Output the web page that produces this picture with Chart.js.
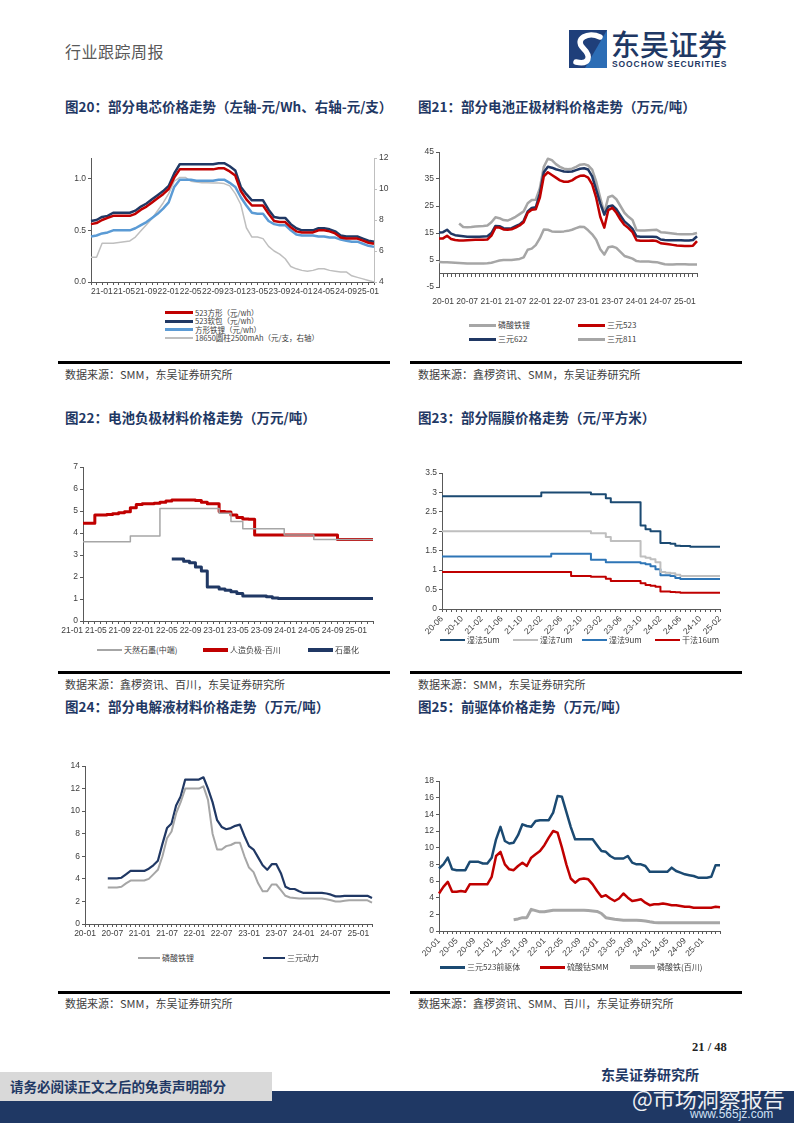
<!DOCTYPE html>
<html>
<head>
<meta charset="utf-8">
<script src="https://cdn.jsdelivr.net/npm/chart.js@4.4.0/dist/chart.umd.min.js"></script>
<style>
body { margin: 0; background: #fff; }
#page { position: relative; width: 794px; height: 1123px; overflow: hidden; background: #fff; font-family: "Noto Sans CJK SC", sans-serif; }
.abs { position: absolute; white-space: nowrap; }
.title { font-size: 13.5px; font-weight: 700; color: #1f3864; line-height: 16px; }
.src { font-size: 11px; color: #404040; line-height: 14px; }
.rule { position: absolute; height: 2.5px; background: #000; width: 332px; }
canvas { position: absolute; }
.li { position: absolute; display: flex; align-items: center; white-space: nowrap; font-size: 8px; line-height: 8px; color: #404040; }
.li.small { font-size: 7.5px; }
.sw { display: inline-block; margin-right: 2px; }
</style>
</head>
<body>
<div id="page">
  <div class="abs" style="left:65px;top:41px;font-size:16px;line-height:20px;color:#595959;letter-spacing:0.5px">行业跟踪周报</div>
  <svg class="abs" style="left:569px;top:30px" width="38" height="38" viewBox="0 0 38 38">
    <rect x="0" y="0" width="38" height="38" fill="#1f3f7a"/>
    <path d="M38 0 L38 38 L16 38 Z" fill="#2c6db5"/>
    <path d="M31 7 C19 1, 5 9, 14 18 C23 27, 20 35, 7 32" stroke="#fff" stroke-width="5.5" fill="none" stroke-linecap="round"/>
  </svg>
  <div class="abs" style="left:611px;top:26px;font-size:29px;line-height:34px;color:#1f3864;font-weight:500">东吴证券</div>
  <div class="abs" style="left:612px;top:59px;font-size:8.5px;line-height:10px;font-weight:700;color:#1f3864;letter-spacing:0.9px;font-family:'Liberation Sans',sans-serif">SOOCHOW SECURITIES</div>

  <div class="abs title" style="left:65px;top:98px">图20：部分电芯价格走势（左轴-元/Wh、右轴-元/支）</div>
  <div class="abs title" style="left:418px;top:98px">图21：部分电池正极材料价格走势（万元/吨）</div>
  <div class="rule" style="left:58px;top:361px"></div>
  <div class="rule" style="left:410px;top:361px"></div>
  <div class="abs src" style="left:65px;top:367px">数据来源：SMM，东吴证券研究所</div>
  <div class="abs src" style="left:418px;top:367px">数据来源：鑫椤资讯、SMM，东吴证券研究所</div>

  <div class="abs title" style="left:65px;top:409px">图22：电池负极材料价格走势（万元/吨）</div>
  <div class="abs title" style="left:418px;top:409px">图23：部分隔膜价格走势（元/平方米）</div>
  <div class="rule" style="left:58px;top:671px"></div>
  <div class="rule" style="left:410px;top:671px"></div>
  <div class="abs src" style="left:65px;top:677px">数据来源：鑫椤资讯、百川，东吴证券研究所</div>
  <div class="abs src" style="left:418px;top:677px">数据来源：SMM，东吴证券研究所</div>

  <div class="abs title" style="left:65px;top:698px">图24：部分电解液材料价格走势（万元/吨）</div>
  <div class="abs title" style="left:418px;top:698px">图25：前驱体价格走势（万元/吨）</div>
  <div class="rule" style="left:58px;top:991px"></div>
  <div class="rule" style="left:410px;top:991px"></div>
  <div class="abs src" style="left:65px;top:996px">数据来源：SMM，东吴证券研究所</div>
  <div class="abs src" style="left:418px;top:996px">数据来源：鑫椤资讯、SMM、百川，东吴证券研究所</div>

  <canvas id="c20" width="338" height="160" style="left:58px;top:140px"></canvas>
  <canvas id="c21" width="312" height="165" style="left:405px;top:140px"></canvas>
  <canvas id="c22" width="328" height="185" style="left:55px;top:455px"></canvas>
  <canvas id="c23" width="327" height="176" style="left:408px;top:460px"></canvas>
  <canvas id="c24" width="335" height="190" style="left:55px;top:752px"></canvas>
  <canvas id="c25" width="330" height="189" style="left:405px;top:768px"></canvas>
  <div id="legends"></div>

  <div class="abs" style="left:692px;top:1040px;font:bold 12.5px 'Liberation Serif',serif;color:#222">21 / 48</div>
  <div class="abs" style="left:0;top:1091px;width:794px;height:32px;background:#1f3864"></div>
  <div class="abs" style="left:0;top:1072px;width:272px;height:29px;background:#d9d9d9"></div>
  <div class="abs" style="left:10px;top:1077px;font-size:13.5px;line-height:18px;font-weight:700;color:#1f3864">请务必阅读正文之后的免责声明部分</div>
  <div class="abs" style="left:601px;top:1065px;font-size:14px;line-height:18px;font-weight:700;color:#1f3864">东吴证券研究所</div>
  <div class="abs" style="left:632px;top:1084px;font-size:22px;line-height:26px;color:#fff;opacity:0.92">@市场洞察报告</div>
  <div class="abs" style="left:690px;top:1107px;font-size:12px;line-height:14px;color:#cfe0f5;font-family:'Liberation Sans',sans-serif">www.565jz.com</div>
</div>

<script>
// ---------- data ----------
// 图20 电芯（左轴 元/Wh，右轴 元/支），21-01 .. 25-04
const ticks20 = ["21-01", "21-05", "21-09", "22-01", "22-05", "22-09", "23-01", "23-05", "23-09", "24-01", "24-05", "24-09", "25-01"];
const cellFang523 = [0.56, 0.57, 0.60, 0.62, 0.64, 0.64, 0.64, 0.64, 0.66, 0.70, 0.73, 0.77, 0.81, 0.85, 0.90, 1.01, 1.09, 1.09, 1.09, 1.09, 1.09, 1.09, 1.09, 1.10, 1.10, 1.07, 1.03, 0.88, 0.80, 0.74, 0.74, 0.74, 0.66, 0.59, 0.58, 0.58, 0.53, 0.49, 0.48, 0.48, 0.48, 0.50, 0.50, 0.49, 0.47, 0.43, 0.42, 0.42, 0.42, 0.40, 0.38, 0.37];
const cellRuan523 = [0.59, 0.60, 0.63, 0.64, 0.67, 0.67, 0.67, 0.67, 0.69, 0.73, 0.76, 0.80, 0.84, 0.88, 0.93, 1.05, 1.14, 1.14, 1.14, 1.14, 1.14, 1.14, 1.14, 1.15, 1.15, 1.12, 1.08, 0.92, 0.85, 0.79, 0.79, 0.79, 0.70, 0.63, 0.62, 0.62, 0.56, 0.52, 0.50, 0.50, 0.50, 0.52, 0.52, 0.51, 0.49, 0.45, 0.44, 0.44, 0.44, 0.42, 0.40, 0.39];
const cellFangLfp = [0.44, 0.45, 0.47, 0.48, 0.50, 0.50, 0.50, 0.50, 0.52, 0.55, 0.58, 0.62, 0.66, 0.71, 0.77, 0.92, 0.99, 0.99, 0.99, 0.98, 0.98, 0.98, 0.98, 0.99, 0.99, 0.96, 0.92, 0.82, 0.74, 0.67, 0.66, 0.66, 0.59, 0.56, 0.55, 0.55, 0.50, 0.46, 0.45, 0.45, 0.45, 0.44, 0.44, 0.43, 0.43, 0.41, 0.40, 0.39, 0.39, 0.37, 0.35, 0.34];
const cell18650 = [5.6, 5.6, 6.5, 6.5, 6.5, 6.55, 6.6, 6.65, 6.9, 7.3, 7.7, 8.1, 8.6, 9.1, 9.7, 10.5, 10.75, 10.75, 10.5, 10.45, 10.4, 10.4, 10.38, 10.38, 10.35, 10.2, 9.7, 9.0, 7.5, 6.9, 6.9, 6.8, 6.3, 6.0, 5.8, 5.5, 5.0, 4.85, 4.75, 4.7, 4.75, 4.85, 4.85, 4.75, 4.7, 4.65, 4.65, 4.4, 4.3, 4.2, 4.1, 4.0];

// 图21 正极材料（万元/吨），19-12 .. 25-04
const ticks21 = ["20-01", "20-07", "21-01", "21-07", "22-01", "22-07", "23-01", "23-07", "24-01", "24-07", "25-01"];
const cathLfp = [4.3, 4.2, 4.2, 4.1, 4.0, 3.9, 3.8, 3.7, 3.7, 3.7, 3.7, 3.7, 3.8, 4.0, 4.4, 4.8, 5.0, 5.0, 5.0, 5.2, 5.4, 6.0, 8.8, 9.2, 10.5, 13.0, 16.3, 16.2, 15.6, 15.5, 15.5, 15.6, 15.8, 16.2, 16.8, 17.3, 17.2, 16.0, 14.5, 12.5, 9.0, 7.0, 9.7, 10.0, 9.5, 8.0, 6.5, 6.0, 5.5, 4.6, 4.4, 4.4, 4.4, 4.3, 4.2, 3.8, 3.4, 3.3, 3.3, 3.4, 3.4, 3.4, 3.3, 3.3, 3.3];
const cathNcm523 = [13.0, 13.0, 14.0, 12.8, 12.4, 12.2, 12.2, 12.3, 12.4, 12.5, 12.5, 12.5, 12.6, 14.0, 17.0, 17.0, 16.3, 16.2, 16.4, 17.0, 17.8, 19.0, 22.5, 23.6, 23.8, 28.0, 36.0, 37.5, 36.5, 35.5, 34.5, 34.0, 34.0, 34.5, 35.5, 36.2, 36.3, 35.5, 33.0, 28.0, 21.0, 17.0, 23.5, 24.3, 22.5, 20.0, 18.0, 16.8, 15.3, 12.3, 12.1, 12.1, 12.1, 12.2, 12.0, 11.2, 11.0, 10.8, 10.6, 10.4, 10.3, 10.2, 10.2, 10.3, 12.0];
const cathNcm622 = [15.2, 15.3, 16.2, 14.8, 14.2, 14.0, 13.8, 13.6, 13.6, 13.6, 13.6, 13.7, 13.8, 15.0, 17.6, 17.5, 16.8, 16.7, 16.8, 17.5, 18.2, 19.5, 23.0, 24.3, 24.5, 29.5, 37.5, 39.5, 39.2, 38.6, 38.2, 37.8, 37.7, 37.8, 38.3, 38.8, 39.0, 38.5, 36.0, 31.0, 26.0, 21.8, 24.8, 25.2, 23.8, 21.5, 19.3, 18.0, 16.5, 13.8, 13.6, 13.6, 13.6, 13.6, 13.5, 12.6, 12.4, 12.3, 12.3, 12.3, 12.3, 12.2, 12.2, 12.4, 13.8];
const cathNcm811 = [null, null, null, null, null, 18.5, 17.2, 17.1, 17.2, 17.4, 17.5, 17.6, 17.8, 19.0, 20.8, 20.5, 19.8, 19.6, 20.2, 21.0, 22.0, 23.0, 26.0, 27.2, 27.3, 31.5, 39.5, 42.5, 42.0, 40.5, 39.5, 38.8, 38.6, 38.8, 39.5, 40.3, 40.5, 40.0, 38.5, 34.0, 28.0, 22.5, 28.3, 28.8, 27.5, 25.0, 22.5, 21.0, 19.8, 16.0, 15.9, 15.9, 16.0, 16.1, 16.2, 15.3, 15.2, 15.0, 14.8, 14.6, 14.5, 14.5, 14.5, 14.6, 15.0];

// 图22 负极材料（万元/吨），21-01 .. 25-02
const ticks22 = ["21-01", "21-05", "21-09", "22-01", "22-05", "22-09", "23-01", "23-05", "23-09", "24-01", "24-05", "24-09", "25-01"];
const anodeNatural = [3.6, 3.6, 3.6, 3.6, 3.6, 3.6, 3.6, 3.6, 3.6, 3.86, 3.86, 3.86, 3.86, 3.86, 5.11, 5.11, 5.11, 5.11, 5.11, 5.11, 5.11, 5.11, 5.11, 5.11, 4.9, 4.9, 4.52, 4.52, 4.19, 4.19, 4.19, 4.19, 4.19, 4.19, 4.19, 3.91, 3.91, 3.91, 3.91, 3.91, 3.71, 3.71, 3.71, 3.71, 3.71, 3.71, 3.71, 3.71, 3.71, 3.71];
const anodeArtificial = [4.44, 4.44, 4.44, 4.82, 4.82, 4.84, 4.88, 4.92, 4.97, 5.15, 5.30, 5.33, 5.33, 5.35, 5.40, 5.45, 5.50, 5.50, 5.50, 5.50, 5.48, 5.40, 5.33, 5.33, 4.98, 4.95, 4.82, 4.70, 4.64, 4.63, 3.91, 3.91, 3.91, 3.91, 3.91, 3.91, 3.91, 3.91, 3.91, 3.91, 3.91, 3.91, 3.91, 3.91, 3.71, 3.71, 3.71, 3.71, 3.71, 3.71];
const anodeGraphitize = [null, null, null, null, null, null, null, null, null, null, null, null, null, null, null, 2.82, 2.82, 2.82, 2.72, 2.65, 2.45, 2.27, 1.55, 1.55, 1.45, 1.40, 1.33, 1.25, 1.14, 1.14, 1.14, 1.14, 1.10, 1.05, 1.02, 1.02, 1.02, 1.02, 1.02, 1.02, 1.02, 1.02, 1.02, 1.02, 1.02, 1.02, 1.02, 1.02, 1.02, 1.02];

// 图23 隔膜（元/平方米），20-06 .. 25-02
const ticks23 = ["20-06", "20-10", "21-02", "21-06", "21-10", "22-02", "22-06", "22-10", "23-02", "23-06", "23-10", "24-02", "24-06", "24-10", "25-02"];
const sepWet5 = [2.9, 2.9, 2.9, 2.9, 2.9, 2.9, 2.9, 2.9, 2.9, 2.9, 2.9, 2.9, 2.9, 2.9, 2.9, 2.9, 2.9, 2.9, 2.9, 2.9, 2.9, 3.0, 3.0, 3.0, 3.0, 3.0, 3.0, 3.0, 3.0, 3.0, 3.0, 2.95, 2.95, 2.95, 2.85, 2.75, 2.75, 2.75, 2.75, 2.75, 2.75, 2.15, 2.05, 2.0, 2.0, 1.70, 1.70, 1.68, 1.63, 1.62, 1.62, 1.60, 1.60, 1.60, 1.60, 1.60, 1.60];
const sepWet7 = [2.0, 2.0, 2.0, 2.0, 2.0, 2.0, 2.0, 2.0, 2.0, 2.0, 2.0, 2.0, 2.0, 2.0, 2.0, 2.0, 2.0, 2.0, 2.0, 2.0, 2.0, 2.0, 2.0, 2.0, 2.0, 2.0, 2.0, 2.0, 2.0, 2.0, 2.0, 1.95, 1.95, 1.95, 1.85, 1.75, 1.75, 1.75, 1.75, 1.75, 1.75, 1.35, 1.32, 1.28, 1.2, 0.95, 0.93, 0.92, 0.88, 0.85, 0.85, 0.85, 0.85, 0.85, 0.85, 0.85, 0.85];
const sepWet9 = [1.35, 1.35, 1.35, 1.35, 1.35, 1.35, 1.35, 1.35, 1.35, 1.35, 1.35, 1.35, 1.35, 1.35, 1.35, 1.35, 1.35, 1.35, 1.35, 1.35, 1.35, 1.35, 1.35, 1.42, 1.42, 1.42, 1.42, 1.42, 1.42, 1.42, 1.42, 1.27, 1.27, 1.27, 1.2, 1.2, 1.2, 1.2, 1.2, 1.2, 1.2, 1.18, 1.15, 1.10, 1.02, 0.87, 0.87, 0.85, 0.80, 0.77, 0.77, 0.77, 0.77, 0.77, 0.77, 0.77, 0.77];
const sepDry16 = [0.95, 0.95, 0.95, 0.95, 0.95, 0.95, 0.95, 0.95, 0.95, 0.95, 0.95, 0.95, 0.95, 0.95, 0.95, 0.95, 0.95, 0.95, 0.95, 0.95, 0.95, 0.95, 0.95, 0.95, 0.95, 0.95, 0.95, 0.85, 0.85, 0.85, 0.85, 0.83, 0.83, 0.83, 0.78, 0.72, 0.72, 0.72, 0.72, 0.72, 0.72, 0.66, 0.62, 0.60, 0.57, 0.45, 0.45, 0.44, 0.43, 0.42, 0.42, 0.42, 0.42, 0.42, 0.42, 0.42, 0.42];

// 图24 电解液材料（万元/吨），20-01 .. 25-04
const ticks24 = ["20-01", "20-07", "21-01", "21-07", "22-01", "22-07", "23-01", "23-07", "24-01", "24-07", "25-01"];
const elecLfp = [null, null, null, null, null, 3.24, 3.24, 3.24, 3.3, 3.6, 3.85, 3.85, 3.85, 3.85, 4.0, 4.4, 4.8, 6.0, 7.6, 8.2, 9.8, 10.8, 12.0, 12.0, 12.0, 12.0, 12.2, 11.0, 8.0, 6.6, 6.6, 6.9, 7.0, 7.2, 7.2, 6.0, 5.0, 4.6, 3.6, 2.9, 2.9, 3.5, 3.5, 3.0, 2.5, 2.35, 2.3, 2.25, 2.25, 2.25, 2.25, 2.25, 2.25, 2.2, 2.1, 2.0, 2.0, 2.05, 2.1, 2.1, 2.1, 2.1, 2.1, 1.9];
const elecNcm = [null, null, null, null, null, 4.04, 4.04, 4.04, 4.1, 4.4, 4.7, 4.7, 4.7, 4.7, 4.9, 5.2, 5.6, 7.1, 8.5, 8.9, 10.5, 11.3, 12.8, 12.8, 12.8, 12.8, 13.0, 12.0, 10.8, 9.2, 8.6, 8.4, 8.5, 8.7, 8.8, 7.8, 6.9, 6.6, 5.9, 5.2, 4.8, 5.3, 5.3, 4.5, 3.3, 3.1, 3.1, 2.9, 2.75, 2.75, 2.75, 2.75, 2.75, 2.7, 2.6, 2.45, 2.45, 2.5, 2.5, 2.5, 2.5, 2.5, 2.5, 2.3];

// 图25 前驱体（万元/吨），20-01 .. 25-05
const ticks25 = ["20-01", "20-05", "20-09", "21-01", "21-05", "21-09", "22-01", "22-05", "22-09", "23-01", "23-05", "23-09", "24-01", "24-05", "24-09", "25-01"];
const precNcm523 = [7.5, 8.0, 8.8, 7.4, 7.3, 7.3, 7.3, 8.3, 8.3, 8.3, 8.1, 8.1, 8.8, 11.0, 12.5, 10.8, 10.5, 10.6, 11.5, 12.8, 12.6, 12.5, 13.2, 13.3, 13.3, 13.3, 14.2, 16.2, 16.1, 14.3, 12.5, 11.0, 11.0, 11.0, 11.0, 11.0, 10.3, 9.6, 9.5, 9.0, 8.7, 8.7, 8.7, 9.0, 8.2, 8.0, 8.0, 7.8, 7.1, 7.1, 7.1, 7.1, 7.1, 7.6, 7.2, 7.0, 6.8, 6.7, 6.6, 6.4, 6.4, 6.4, 6.5, 7.9, 7.9];
const precCobalt = [4.5, 5.3, 5.9, 4.7, 4.7, 4.8, 4.7, 5.6, 5.6, 5.6, 5.6, 5.6, 6.5, 9.0, 9.5, 8.0, 7.4, 7.3, 7.8, 8.2, 7.8, 8.8, 9.2, 9.6, 10.3, 11.2, 12.0, 11.8, 10.0, 8.0, 6.3, 5.8, 6.2, 6.3, 6.2, 5.6, 4.8, 4.1, 4.3, 3.9, 3.6, 3.9, 4.5, 4.0, 3.6, 3.7, 3.8, 3.4, 3.1, 3.2, 3.2, 3.3, 3.2, 3.1, 3.1, 3.0, 2.9, 2.9, 2.8, 2.8, 2.8, 2.8, 2.8, 2.9, 2.85];
const precFep = [null, null, null, null, null, null, null, null, null, null, null, null, null, null, null, null, null, 1.35, 1.45, 1.6, 1.6, 2.6, 2.45, 2.3, 2.3, 2.4, 2.5, 2.5, 2.5, 2.5, 2.5, 2.5, 2.5, 2.5, 2.45, 2.4, 2.35, 2.1, 1.6, 1.5, 1.4, 1.35, 1.3, 1.3, 1.3, 1.28, 1.25, 1.2, 1.1, 1.02, 1.0, 1.0, 1.0, 1.0, 1.0, 1.0, 1.0, 1.0, 1.0, 1.0, 1.0, 1.0, 1.0, 1.0, 1.0];

// ---------- styles ----------
const RED = "#c00000", NAVY = "#203864", TEAL = "#1b4a72", LBLUE = "#5b9bd5", MBLUE = "#2e75b6", GRAY = "#a6a6a6", LGRAY = "#bfbfbf";
const AXIS = "#595959", TICK = "#404040";
const FONT = { family: "'Liberation Sans', 'Noto Sans CJK SC', sans-serif", size: 8.5 };

function monthRange(from, to) {
    const out = [];
    let [y, m] = from.split("-").map(Number);
    const [ty, tm] = to.split("-").map(Number);
    while (y < ty || (y === ty && m <= tm)) {
        out.push(String(y).padStart(2, "0") + "-" + String(m).padStart(2, "0"));
        m++;
        if (m > 12) { m = 1; y++; }
    }
    return out;
}

function series(label, data, color, width, extra) {
    return Object.assign({ label: label, data: data, borderColor: color, backgroundColor: color, borderWidth: width, fill: false }, extra || {});
}

function xAxis(shown, align, height, rotate) {
    return {
        type: "category",
        grid: { display: true, drawOnChartArea: false, drawTicks: true, tickLength: 3, color: AXIS },
        border: { display: true, color: AXIS, width: 1 },
        ticks: {
            autoSkip: false, maxRotation: rotate || 0, minRotation: rotate || 0, align: align, padding: 2,
            color: TICK, font: FONT,
            callback: function (v) {
                const l = this.getLabelForValue(v);
                return shown.includes(l) ? l : "";
            }
        },
        afterFit: function (s) { s.height = height; }
    };
}

function yAxis(min, max, step, width, extra) {
    return Object.assign({
        min: min, max: max,
        ticks: { stepSize: step, color: TICK, font: FONT, padding: 2 },
        grid: { drawOnChartArea: false, drawTicks: true, tickLength: 3, color: AXIS },
        border: { color: AXIS },
        afterFit: function (s) { s.width = width; }
    }, extra || {});
}

function baseOptions(pad, scales) {
    return {
        responsive: false,
        animation: false,
        layout: { padding: pad },
        elements: { point: { radius: 0 }, line: { tension: 0, borderJoinStyle: "round" } },
        plugins: { legend: { display: false }, tooltip: { enabled: false } },
        scales: scales
    };
}

function buildLegend(chart, places, swWidth, cls) {
    const box = document.getElementById("legends");
    chart.data.datasets.forEach((ds, i) => {
        const item = document.createElement("div");
        item.className = "li" + (cls ? " " + cls : "");
        item.style.left = places[i][0] + "px";
        item.style.top = (places[i][1] - 4) + "px";
        const sw = document.createElement("span");
        sw.className = "sw";
        sw.style.width = swWidth + "px";
        sw.style.height = (ds.borderWidth + 0.5) + "px";
        sw.style.background = ds.borderColor;
        item.appendChild(sw);
        item.appendChild(document.createTextNode(ds.label));
        box.appendChild(item);
    });
}

// ---------- 图20 ----------
const y20 = yAxis(0, 1.2, 0.5, 33);
y20.afterBuildTicks = function (s) { s.ticks = [0, 0.5, 1].map(v => ({ value: v })); };
y20.ticks.callback = v => v.toFixed(1);
const y20r = yAxis(4, 12, 2, 22, { position: "right" });
y20r.border = { color: LGRAY };
y20r.grid.color = LGRAY;

const chart20 = new Chart(document.getElementById("c20"), {
    type: "line",
    data: {
        labels: monthRange("21-01", "25-04"),
        datasets: [
            series("523方形（元/wh）", cellFang523, RED, 2.5, { yAxisID: "y" }),
            series("523软包（元/wh）", cellRuan523, NAVY, 2.5, { yAxisID: "y" }),
            series("方形铁锂（元/wh）", cellFangLfp, LBLUE, 2.5, { yAxisID: "y" }),
            series("18650圆柱2500mAh（元/支，右轴）", cell18650, LGRAY, 1.5, { yAxisID: "y2" })
        ]
    },
    options: baseOptions({ top: 18, left: 0, right: 0, bottom: 0 }, {
        x: xAxis(ticks20, "start", 18),
        y: y20,
        y2: y20r
    })
});
buildLegend(chart20, [[165, 312.5], [165, 321], [165, 329.5], [165, 338]], 28, "small");

// ---------- 图21 ----------
const x21 = xAxis(ticks21, "center", 18);
x21.grid = { display: false };
x21.border = { display: false };
const chart21 = new Chart(document.getElementById("c21"), {
    type: "line",
    data: {
        labels: monthRange("19-12", "25-04"),
        datasets: [
            series("磷酸铁锂", cathLfp, GRAY, 2.5),
            series("三元523", cathNcm523, RED, 2.5),
            series("三元622", cathNcm622, NAVY, 2.5),
            series("三元811", cathNcm811, GRAY, 2.5)
        ]
    },
    options: baseOptions({ top: 12, left: 0, right: 20, bottom: 0 }, {
        x: x21,
        x0: {
            type: "category", axis: "x", position: { y: 0 },
            grid: { display: true, drawOnChartArea: false, drawTicks: true, tickLength: 3, color: AXIS },
            border: { display: true, color: AXIS },
            ticks: { display: false, autoSkip: false }
        },
        y: yAxis(-5, 45, 10, 34)
    })
});
buildLegend(chart21, [[469, 325], [578, 325], [469, 339.3], [578, 339.3]], 27);

// ---------- 图22 ----------
const chart22 = new Chart(document.getElementById("c22"), {
    type: "line",
    data: {
        labels: monthRange("21-01", "25-02"),
        datasets: [
            series("天然石墨(中端)", anodeNatural, GRAY, 1.5, { stepped: "after" }),
            series("人造负极-百川", anodeArtificial, RED, 3, { stepped: "after" }),
            series("石墨化", anodeGraphitize, NAVY, 3, { stepped: "after" })
        ]
    },
    options: baseOptions({ top: 12, left: 0, right: 10, bottom: 0 }, {
        x: xAxis(ticks22, "end", 19),
        y: yAxis(0, 7, 1, 28)
    })
});
buildLegend(chart22, [[97, 650], [203, 650], [308, 650]], 25);

// ---------- 图23 ----------
const y23 = yAxis(0, 3.5, 0.5, 34);
y23.ticks.callback = v => String(v);
const chart23 = new Chart(document.getElementById("c23"), {
    type: "line",
    data: {
        labels: monthRange("20-06", "25-02"),
        datasets: [
            series("湿法5um", sepWet5, TEAL, 2, { stepped: "after" }),
            series("湿法7um", sepWet7, LGRAY, 2, { stepped: "after" }),
            series("湿法9um", sepWet9, MBLUE, 2, { stepped: "after" }),
            series("干法16um", sepDry16, RED, 2, { stepped: "after" })
        ]
    },
    options: baseOptions({ top: 13, left: 0, right: 15, bottom: 0 }, {
        x: xAxis(ticks23, "center", 27, 45),
        y: y23
    })
});
buildLegend(chart23, [[440, 640], [513, 640], [582, 640], [655, 640]], 25);

// ---------- 图24 ----------
const chart24 = new Chart(document.getElementById("c24"), {
    type: "line",
    data: {
        labels: monthRange("20-01", "25-04"),
        datasets: [
            series("磷酸铁锂", elecLfp, GRAY, 2),
            series("三元动力", elecNcm, NAVY, 2.2)
        ]
    },
    options: baseOptions({ top: 14, left: 0, right: 18, bottom: 0 }, {
        x: xAxis(ticks24, "center", 18),
        y: yAxis(0, 14, 2, 30)
    })
});
buildLegend(chart24, [[138, 958], [263, 958]], 22);

// ---------- 图25 ----------
const chart25 = new Chart(document.getElementById("c25"), {
    type: "line",
    data: {
        labels: monthRange("20-01", "25-05"),
        datasets: [
            series("三元523前驱体", precNcm523, TEAL, 2.5),
            series("硫酸钴SMM", precCobalt, RED, 2.5),
            series("磷酸铁(百川)", precFep, GRAY, 3)
        ]
    },
    options: baseOptions({ top: 13, left: 0, right: 15, bottom: 0 }, {
        x: xAxis(ticks25, "center", 26, 45),
        y: yAxis(0, 18, 2, 34)
    })
});
buildLegend(chart25, [[440, 967], [540, 967], [630, 967]], 25);
</script>
</body>
</html>
